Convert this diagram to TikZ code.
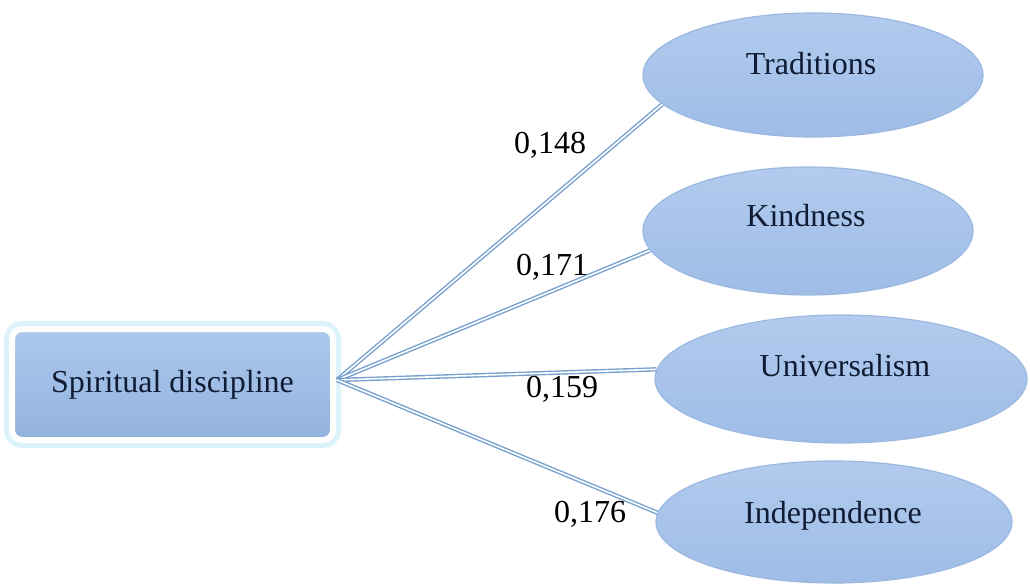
\documentclass[tikz,border=0pt]{standalone}
\usepackage{fontspec}
\setmainfont{Liberation Serif}
\usetikzlibrary{shapes.geometric}
\definecolor{linkblue}{HTML}{76A0D0}
\definecolor{ovaltop}{HTML}{B2CBEE}
\definecolor{ovalbot}{HTML}{9EBCE6}
\definecolor{ovalrim}{HTML}{9AB8E2}
\definecolor{boxtop}{HTML}{ACC8EC}
\definecolor{boxbot}{HTML}{92B2DE}
\definecolor{glowcyan}{HTML}{DDF3FB}
\definecolor{navytext}{HTML}{101C33}
\begin{document}
\begin{tikzpicture}[x=0.5pt,y=-0.5pt,
  srcbox/.style={rectangle, rounded corners=5pt, inner sep=0pt,
    top color=boxtop, bottom color=boxbot, draw=white, line width=3pt,
    preaction={draw=glowcyan, line width=8pt},
    font=\fontsize{16}{19}\selectfont, text=navytext},
  oval/.style={ellipse, inner sep=0pt, top color=ovaltop, bottom color=ovalbot,
    draw=ovalrim, line width=0.6pt},
  link/.style={draw=linkblue, line width=0.7pt, double=white, double distance=0.8pt},
  lab/.style={font=\fontsize{16}{19}\selectfont, inner sep=0pt, text depth=0pt, text=black},
  otext/.style={font=\fontsize{16}{19}\selectfont, inner sep=0pt, text depth=0pt, text=navytext}]
\useasboundingbox[fill=white] (0,0) rectangle (1030,584);

% source box
\node[srcbox, minimum width=160.5pt, minimum height=55.5pt] (src) at (172.5,384.5) {Spiritual discipline};
\coordinate (hub) at (337,380);

% ellipses
\node[oval, minimum width=170pt, minimum height=62pt] (trad) at (813,75) {};
\node[oval, minimum width=165pt, minimum height=64pt] (kind) at (808,231) {};
\node[oval, minimum width=186pt, minimum height=64pt] (univ) at (841,379) {};
\node[oval, minimum width=178pt, minimum height=61pt] (inde) at (834,522) {};

\node[otext] (tradt) at (811,63) {Traditions};
\node[otext] (kindt) at (806,215) {Kindness};
\node[otext] (univt) at (845,365) {Universalism};
\node[otext] (indet) at (833,512) {Independence};

% connectors
\draw[link] (hub) -- (trad.191);
\draw[link] (hub) -- (kind.187);
\draw[link] (hub) -- (univ.177);
\draw[link] (hub) -- (inde.177);

% labels
\node[lab] (l1) at (550,143) {0,148};
\node[lab] (l2) at (552,265) {0,171};
\node[lab] (l3) at (562,387) {0,159};
\node[lab] (l4) at (590,512) {0,176};
\end{tikzpicture}
\end{document}
